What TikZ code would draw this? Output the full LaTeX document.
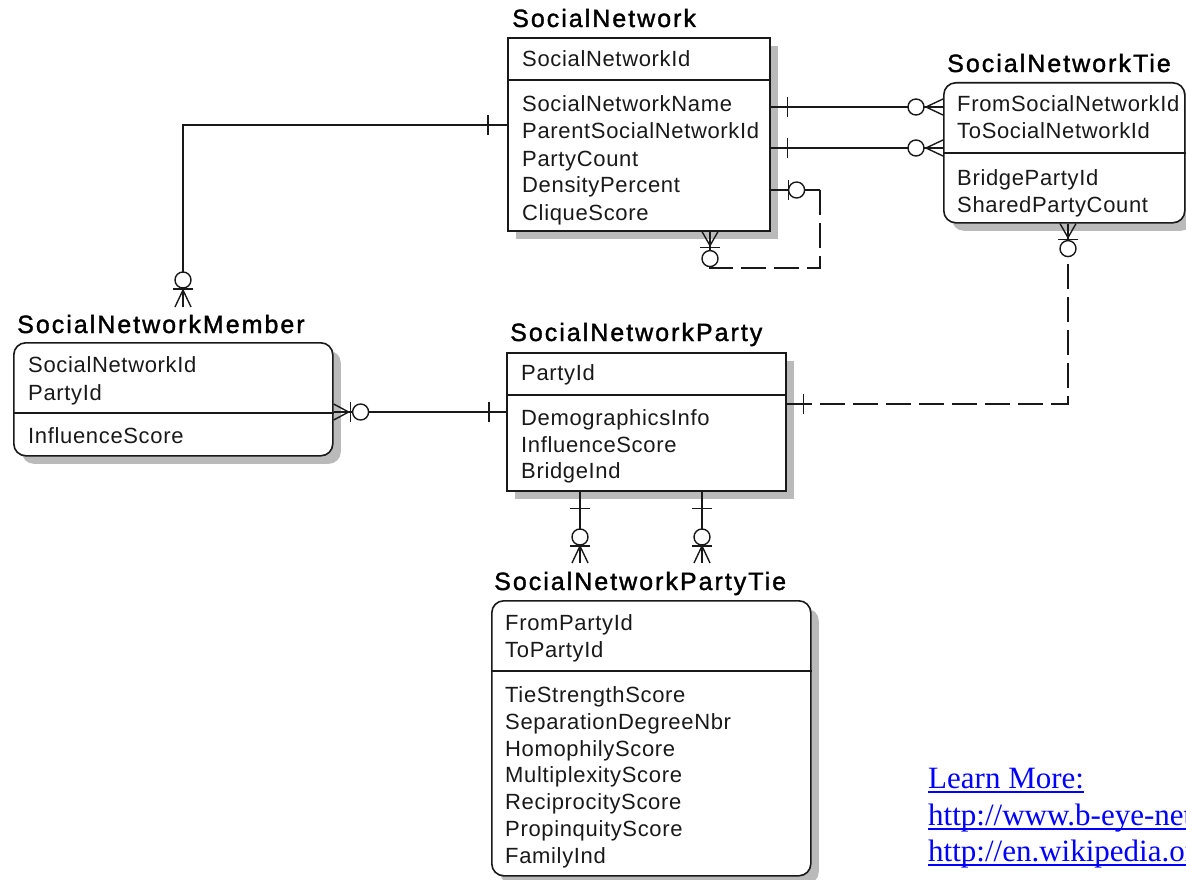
\documentclass[tikz,border=0pt]{standalone}
\usepackage{fontspec}
\setmainfont{Liberation Sans}
\newfontfamily\attrfont[LetterSpace=3]{Liberation Sans}
\newfontfamily\titlefont[LetterSpace=8,FakeBold=1.4]{Liberation Sans}
\newfontfamily\linkfont{Liberation Serif}
\usetikzlibrary{shadows}
\definecolor{linkblue}{RGB}{0,0,255}
\definecolor{ink}{RGB}{25,25,25}

\tikzset{
  pics/onebar/.style={code={\draw[rel] (#1,-10) -- (#1,10);}},
  pics/ring/.style={code={\draw[rel,fill=white] (#1,0) circle[radius=8pt];}},
  pics/crow/.style={code={\draw[rel] (0,-8) -- (#1,0) -- (0,8); \draw[rel] (0,0) -- (#1,0);}},
}

\begin{document}
\begin{tikzpicture}[x=1pt,y=-1pt,
  attr/.style={anchor=base west, inner sep=0pt, font=\attrfont\fontsize{22}{26}\selectfont, text=ink},
  ttl/.style={anchor=base west, inner sep=0pt, font=\titlefont\fontsize{25}{30}\selectfont, text=black},
  erbox/.style={draw=ink, line width=1.6pt, fill=white, anchor=north west, inner sep=0pt,
    drop shadow={shadow xshift=8pt,shadow yshift=-8pt,fill=black!27,opacity=1}},
  rbox/.style={erbox, rounded corners=12pt},
  sep/.style={draw=ink, line width=1.4pt},
  rel/.style={draw=ink, line width=1.4pt},
  reldash/.style={rel, dash pattern=on 25pt off 8pt},
  link/.style={anchor=base west, inner sep=0pt, font=\linkfont\fontsize{31}{36}\selectfont, text=linkblue},
]
\path[use as bounding box] (0,0) rectangle (1186,880);
\clip (0,0) rectangle (1186,880);
\fill[white] (0,0) rectangle (1186,880);

% ---------- SocialNetwork ----------
\node[ttl] (sn-t) at (512,27) {SocialNetwork};
\node[erbox, minimum width=262pt, minimum height=193pt] (sn) at (507,37) {};
\draw[sep] (sn.west |- 0,80) -- (sn.east |- 0,80);
\node[attr] (sn-k1) at (522,67) {SocialNetworkId};
\node[attr] (sn-a1) at (522,112) {SocialNetworkName};
\node[attr] (sn-a2) at (522,139) {ParentSocialNetworkId};
\node[attr] (sn-a3) at (522,166) {PartyCount};
\node[attr] (sn-a4) at (522,193) {DensityPercent};
\node[attr] (sn-a5) at (522,220) {CliqueScore};

% ---------- SocialNetworkTie ----------
\node[ttl] (snt-t) at (947,72) {SocialNetworkTie};
\node[rbox, minimum width=241pt, minimum height=140pt] (snt) at (943,82) {};
\draw[sep] (snt.west |- 0,153) -- (snt.east |- 0,153);
\node[attr] (snt-k1) at (957,112) {FromSocialNetworkId};
\node[attr] (snt-k2) at (957,139) {ToSocialNetworkId};
\node[attr] (snt-a1) at (957,185) {BridgePartyId};
\node[attr] (snt-a2) at (957,212) {SharedPartyCount};

% ---------- SocialNetworkMember ----------
\node[ttl] (snm-t) at (17,333) {SocialNetworkMember};
\node[rbox, minimum width=319pt, minimum height=113pt] (snm) at (13,342) {};
\draw[sep] (snm.west |- 0,413) -- (snm.east |- 0,413);
\node[attr] (snm-k1) at (28,372) {SocialNetworkId};
\node[attr] (snm-k2) at (28,400) {PartyId};
\node[attr] (snm-a1) at (28,443) {InfluenceScore};

% ---------- SocialNetworkParty ----------
\node[ttl] (snp-t) at (510,341) {SocialNetworkParty};
\node[erbox, minimum width=279pt, minimum height=138pt] (snp) at (506,352) {};
\draw[sep] (snp.west |- 0,395) -- (snp.east |- 0,395);
\node[attr] (snp-k1) at (521,380) {PartyId};
\node[attr] (snp-a1) at (521,425) {DemographicsInfo};
\node[attr] (snp-a2) at (521,452) {InfluenceScore};
\node[attr] (snp-a3) at (521,478) {BridgeInd};

% ---------- SocialNetworkPartyTie ----------
\node[ttl] (snpt-t) at (494,590) {SocialNetworkPartyTie};
\node[rbox, minimum width=319pt, minimum height=275pt] (snpt) at (491,600) {};
\draw[sep] (snpt.west |- 0,671) -- (snpt.east |- 0,671);
\node[attr] (snpt-k1) at (505,630) {FromPartyId};
\node[attr] (snpt-k2) at (505,657) {ToPartyId};
\node[attr] (snpt-a1) at (505,702) {TieStrengthScore};
\node[attr] (snpt-a2) at (505,729) {SeparationDegreeNbr};
\node[attr] (snpt-a3) at (505,756) {HomophilyScore};
\node[attr] (snpt-a4) at (505,782) {MultiplexityScore};
\node[attr] (snpt-a5) at (505,809) {ReciprocityScore};
\node[attr] (snpt-a6) at (505,836) {PropinquityScore};
\node[attr] (snpt-a7) at (505,863) {FamilyInd};

% ---------- relationship end points ----------
\coordinate (mtop) at (183,307);
\coordinate (pt1) at (580,563);
\coordinate (pt2) at (702,563);

% ---------- relationships ----------
% SocialNetwork -- SocialNetworkMember
\draw[rel] (sn.west |- 0,125) -| (mtop);
\pic[rotate=180] at (sn.west |- 0,125) {onebar=19};
\pic[rotate=90] at (mtop) {crow=17};
\pic[rotate=90] at (mtop) {onebar=18};
\pic[rotate=90] at (mtop) {ring=27};

% SocialNetwork -- SocialNetworkTie (from / to)
\draw[rel] (sn.east |- 0,107) -- (snt.west |- 0,107);
\pic at (sn.east |- 0,107) {onebar=17};
\pic[rotate=180] at (snt.west |- 0,107) {crow=17};
\pic[rotate=180] at (snt.west |- 0,107) {ring=27};
\draw[rel] (sn.east |- 0,148) -- (snt.west |- 0,148);
\pic at (sn.east |- 0,148) {onebar=17};
\pic[rotate=180] at (snt.west |- 0,148) {crow=17};
\pic[rotate=180] at (snt.west |- 0,148) {ring=27};

% SocialNetwork parent (recursive)
\draw[rel] (sn.east |- 0,190) -- (820,190);
\draw[reldash] (820,190) -- (820,268) -- (710,268) -- (sn.south -| 710,0);
\pic at (sn.east |- 0,190) {onebar=18};
\pic at (sn.east |- 0,190) {ring=26};
\pic[rotate=-90] at (sn.south -| 710,0) {crow=14};
\pic[rotate=-90] at (sn.south -| 710,0) {onebar=16};
\pic[rotate=-90] at (sn.south -| 710,0) {ring=27};

% SocialNetworkMember -- SocialNetworkParty
\draw[rel] (snm.east |- 0,412) -- (snp.west |- 0,412);
\pic at (snm.east |- 0,412) {crow=15};
\pic at (snm.east |- 0,412) {onebar=17};
\pic at (snm.east |- 0,412) {ring=27};
\pic[rotate=180] at (snp.west |- 0,412) {onebar=17};

% SocialNetworkParty -- SocialNetworkTie (bridge party)
\draw[reldash] (snp.east |- 0,404) -- (1068,404) -- (snt.south -| 1068,0);
\pic at (snp.east |- 0,404) {onebar=17};
\pic[rotate=-90] at (snt.south -| 1068,0) {crow=14};
\pic[rotate=-90] at (snt.south -| 1068,0) {onebar=16};
\pic[rotate=-90] at (snt.south -| 1068,0) {ring=25};

% SocialNetworkParty -- SocialNetworkPartyTie (from / to)
\draw[rel] (snp.south -| pt1) -- (pt1);
\pic[rotate=-90] at (snp.south -| pt1) {onebar=17};
\pic[rotate=90] at (pt1) {crow=17};
\pic[rotate=90] at (pt1) {onebar=17};
\pic[rotate=90] at (pt1) {ring=26};
\draw[rel] (snp.south -| pt2) -- (pt2);
\pic[rotate=-90] at (snp.south -| pt2) {onebar=17};
\pic[rotate=90] at (pt2) {crow=17};
\pic[rotate=90] at (pt2) {onebar=17};
\pic[rotate=90] at (pt2) {ring=26};

% ---------- links ----------
\node[link] (l1) at (928,788) {Learn More:};
\node[link] (l2) at (928,825) {http://www.b-eye-network.com};
\node[link] (l3) at (928,861) {http://en.wikipedia.org};
\foreach \l in {l1,l2,l3}
  \draw[linkblue, line width=1.5pt] ([yshift=-4pt]\l.base west) -- ([yshift=-4pt]\l.base east);
\end{tikzpicture}
\end{document}
